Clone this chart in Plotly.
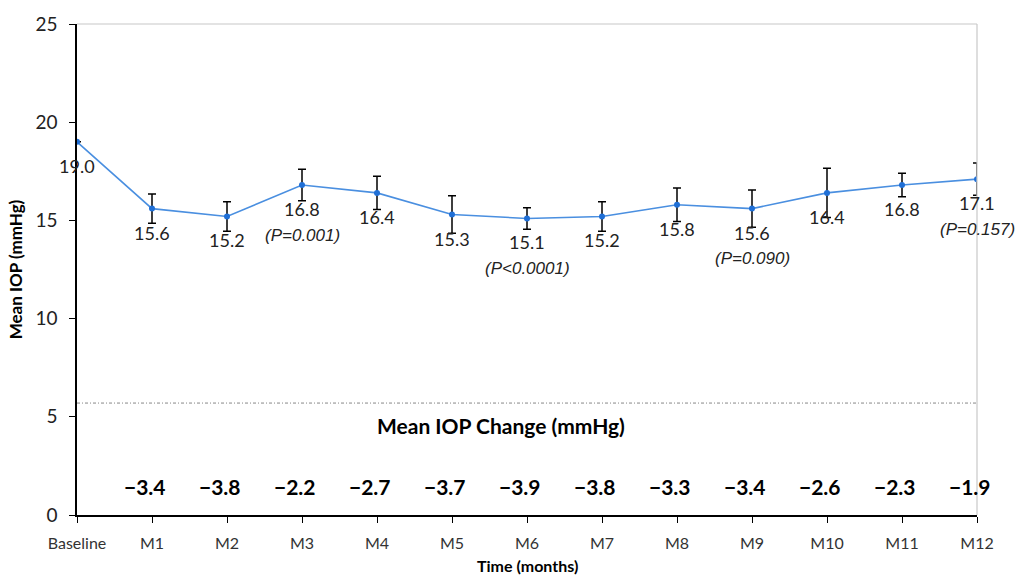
import plotly.graph_objects as go

# Mean IOP over follow-up
categories = ["Baseline", "M1", "M2", "M3", "M4", "M5", "M6", "M7", "M8", "M9", "M10", "M11", "M12"]
mean_iop = [19.0, 15.6, 15.2, 16.8, 16.4, 15.3, 15.1, 15.2, 15.8, 15.6, 16.4, 16.8, 17.1]
iop_err = [0.0, 0.75, 0.75, 0.8, 0.85, 0.95, 0.55, 0.75, 0.85, 0.95, 1.25, 0.6, 0.82]
iop_change = [None, -3.4, -3.8, -2.2, -2.7, -3.7, -3.9, -3.8, -3.3, -3.4, -2.6, -2.3, -1.9]
p_labels = {3: "(P=0.001)", 6: "(P<0.0001)", 9: "(P=0.090)", 12: "(P=0.157)"}
yticks = [0, 5, 10, 15, 20, 25]
separator_y = 5.7
change_row_y = 1.45

xs = list(range(len(categories)))

fig = go.Figure()
fig.add_trace(go.Scatter(
    x=xs, y=mean_iop, mode="lines+markers",
    line=dict(color="#4a8fe0", width=1.6),
    marker=dict(color="#1f6fd6", size=6, symbol="circle"),
    error_y=dict(type="data", array=iop_err, visible=True,
                 color="black", thickness=1.5, width=4),
    showlegend=False, hoverinfo="skip",
))

# separator between the IOP plot and the change row
fig.add_trace(go.Scatter(
    x=[xs[0], xs[-1]], y=[separator_y, separator_y], mode="lines",
    line=dict(color="#555555", width=0.7, dash="3px,2px,1px,2px"),
    showlegend=False, hoverinfo="skip",
))

ann = []
calibri = "Lato, 'Open Sans', sans-serif"
for x, v in zip(xs, mean_iop):
    ann.append(dict(x=x, y=v, text=f"{v:.1f}", showarrow=False, yshift=-24,
                    font=dict(family=calibri, size=18, color="#222222")))
for x, t in p_labels.items():
    ann.append(dict(x=x, y=mean_iop[x], text=f"<i>{t}</i>", showarrow=False, yshift=-50,
                    font=dict(family="Liberation Sans, Arial, sans-serif", size=17, color="#222222")))
for x, c in zip(xs, iop_change):
    if c is None:
        continue
    ann.append(dict(x=x - 0.1, y=change_row_y, text=f"<b>\u2212{abs(c):.1f}</b>", showarrow=False,
                    font=dict(family=calibri, size=21, color="black")))
ann.append(dict(x=6, y=4.55, text="<b>Mean IOP Change (mmHg)</b>", showarrow=False,
                xshift=-26, font=dict(family=calibri, size=21, color="black")))
# x-axis title, placed below the tick labels
ann.append(dict(x=0.5, y=0, xref="paper", yref="paper", yanchor="middle", yshift=-50,
                text="<b>Time (months)</b>", showarrow=False,
                font=dict(family=calibri, size=16, color="black")))

fig.update_layout(
    width=1015, height=578,
    margin=dict(l=77, r=38, t=24, b=63),
    paper_bgcolor="white", plot_bgcolor="white",
    annotations=ann,
    shapes=[
        dict(type="line", xref="paper", yref="paper", x0=0, x1=1, y0=1, y1=1,
             line=dict(color="#c8c8c8", width=1.2)),
        dict(type="line", xref="paper", yref="paper", x0=1, x1=1, y0=0, y1=1,
             line=dict(color="#c8c8c8", width=1.2)),
    ],
    xaxis=dict(
        range=[0, 12], tickvals=xs, ticktext=categories, automargin=False,
        showgrid=False, zeroline=False, showline=True, linecolor="black", linewidth=1.5,
        ticks="outside", ticklen=6, tickcolor="black", tickwidth=1.2,
        ticklabelstandoff=7,
        tickfont=dict(family=calibri, size=16, color="#333333"),
    ),
    yaxis=dict(
        range=[0, 25], tickvals=yticks, automargin=False,
        showgrid=False, zeroline=False, showline=True, linecolor="black", linewidth=1.5,
        ticks="outside", ticklen=6, tickcolor="black", tickwidth=1.2,
        ticklabelstandoff=8,
        tickfont=dict(family=calibri, size=19, color="#222222"),
        title=dict(text="<b>Mean IOP (mmHg)</b>", standoff=8,
                   font=dict(family=calibri, size=17, color="black")),
    ),
)

fig.write_html("out.html")
